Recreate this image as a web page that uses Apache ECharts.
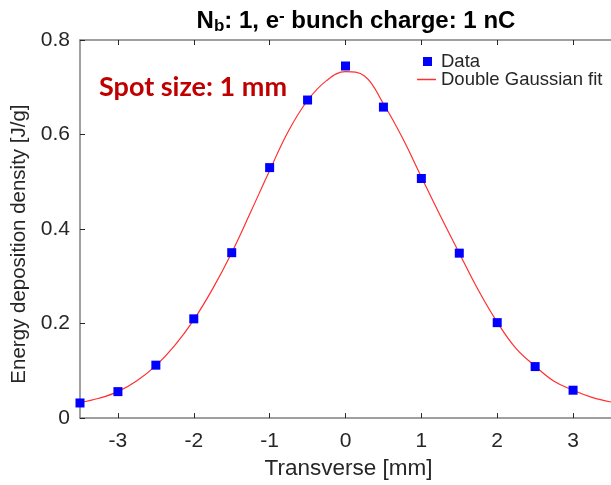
<!DOCTYPE html>
<html>
<head>
<meta charset="utf-8">
<script src="https://cdn.jsdelivr.net/npm/echarts@6/dist/echarts.min.js"></script>
<style>
  html, body { margin: 0; padding: 0; background: #ffffff; }
  #chart { width: 611px; height: 485px; }
</style>
</head>
<body>
<div id="chart"></div>
<script>
// Measured energy deposition profile (transverse position in mm, density in J/g)
const dataX = [-3.5, -3, -2.5, -2, -1.5, -1, -0.5, 0, 0.5, 1, 1.5, 2, 2.5, 3];
const dataY = [0.032, 0.056, 0.112, 0.210, 0.350, 0.530, 0.673, 0.745, 0.658, 0.507, 0.349, 0.202, 0.109, 0.059];

// Double Gaussian fit curve, sampled every 0.25 mm
const fitX = [-3.5, -3.25, -3, -2.75, -2.5, -2.25, -2, -1.75, -1.5, -1.25, -1, -0.75, -0.5, -0.25,
              0, 0.25, 0.5, 0.75, 1, 1.25, 1.5, 1.75, 2, 2.25, 2.5, 2.75, 3, 3.25, 3.5];
const fitY = [0.033, 0.042, 0.056, 0.079, 0.111, 0.154, 0.208, 0.274, 0.350, 0.436, 0.524, 0.608, 0.672, 0.714,
              0.733, 0.724, 0.665, 0.593, 0.510, 0.428, 0.349, 0.271, 0.203, 0.147, 0.110, 0.078, 0.059, 0.044, 0.034];

// Axis ticks
const xTicks = [-3, -2, -1, 0, 1, 2, 3];
const yTicks = [0, 0.2, 0.4, 0.6, 0.8];

const axisGray = '#808080';
const textGray = '#262626';
const font = '"Liberation Sans", Arial, sans-serif';

const chart = echarts.init(document.getElementById('chart'), null, { renderer: 'canvas' });

const xCommon = {
  type: 'value',
  min: -3.5,
  max: 3.5,
  splitLine: { show: false },
  axisLine: { show: true, onZero: false, lineStyle: { color: axisGray, width: 1.5 } },
  axisTick: { show: true, inside: true, length: 5, customValues: xTicks, lineStyle: { color: '#262626', width: 1 } }
};

chart.setOption({
  animation: false,
  backgroundColor: '#ffffff',
  title: {
    text: '{n|N}{sub|b}{n|: 1, e}{sup|-}{n| bunch charge: 1 nC}',
    left: 351,
    textAlign: 'center',
    top: 2,
    textStyle: {
      rich: {
        n: { fontFamily: font, fontSize: 24, fontWeight: 'bold', color: '#000000' },
        sub: { fontFamily: font, fontSize: 17, fontWeight: 'bold', color: '#000000', padding: [11, 0, 0, 0] },
        sup: { fontFamily: font, fontSize: 17, fontWeight: 'bold', color: '#000000', padding: [0, 0, 10, 0] }
      }
    }
  },
  grid: { left: 80, top: 40, width: 539, height: 380, containLabel: false },
  legend: [
    {
      data: ['Data'],
      orient: 'vertical',
      left: 423,
      top: 52,
      padding: 0,
      itemWidth: 9,
      itemHeight: 9,
      textStyle: { fontFamily: font, fontSize: 18.5, color: textGray, padding: [0, 0, 0, 4] }
    },
    {
      data: [{ name: 'Double Gaussian fit', icon: 'rect' }],
      orient: 'vertical',
      left: 417,
      top: 70,
      padding: 0,
      itemWidth: 19,
      itemHeight: 1.5,
      textStyle: { fontFamily: font, fontSize: 18.5, color: textGray }
    }
  ],
  xAxis: [
    Object.assign({}, xCommon, {
      position: 'bottom',
      name: 'Transverse [mm]',
      nameLocation: 'middle',
      nameGap: 36,
      nameTextStyle: { fontFamily: font, fontSize: 22.5, color: textGray, padding: [0, 0, 0, 6] },
      axisLabel: { show: true, customValues: xTicks, margin: 13, fontFamily: font, fontSize: 21, color: textGray }
    }),
    Object.assign({}, xCommon, {
      position: 'top',
      axisLabel: { show: false }
    })
  ],
  yAxis: [{
    type: 'value',
    min: 0,
    max: 0.8,
    interval: 0.2,
    name: 'Energy deposition density [J/g]',
    nameLocation: 'middle',
    nameGap: 43,
    nameRotate: 90,
    nameTextStyle: { fontFamily: font, fontSize: 20.5, color: textGray, padding: [0, 30, 0, 0] },
    splitLine: { show: false },
    axisLine: { show: true, onZero: false, lineStyle: { color: axisGray, width: 1.5 } },
    axisTick: { show: true, inside: true, length: 5, lineStyle: { color: '#262626', width: 1 } },
    axisLabel: { margin: 10, fontFamily: font, fontSize: 21, color: textGray }
  }],
  graphic: [{
    type: 'text',
    x: 99,
    y: 87,
    style: {
      text: 'Spot size: 1 mm',
      fontFamily: 'Lato, "Open Sans", sans-serif',
      fontWeight: 'bold',
      fontSize: 27,
      fill: '#c00000',
      verticalAlign: 'middle'
    }
  }],
  series: [
    {
      name: 'Double Gaussian fit',
      type: 'line',
      xAxisIndex: 0,
      smooth: 0.4,
      symbol: 'none',
      clip: true,
      lineStyle: { color: '#ff3030', width: 1.2 },
      itemStyle: { color: '#ff3030' },
      data: fitX.map((x, i) => [x, fitY[i]]),
      z: 2
    },
    {
      name: 'Data',
      type: 'scatter',
      xAxisIndex: 0,
      symbol: 'rect',
      symbolSize: 9,
      itemStyle: { color: '#0000ff', opacity: 1 },
      data: dataX.map((x, i) => [x, dataY[i]]),
      z: 3
    }
  ]
});
</script>
</body>
</html>
